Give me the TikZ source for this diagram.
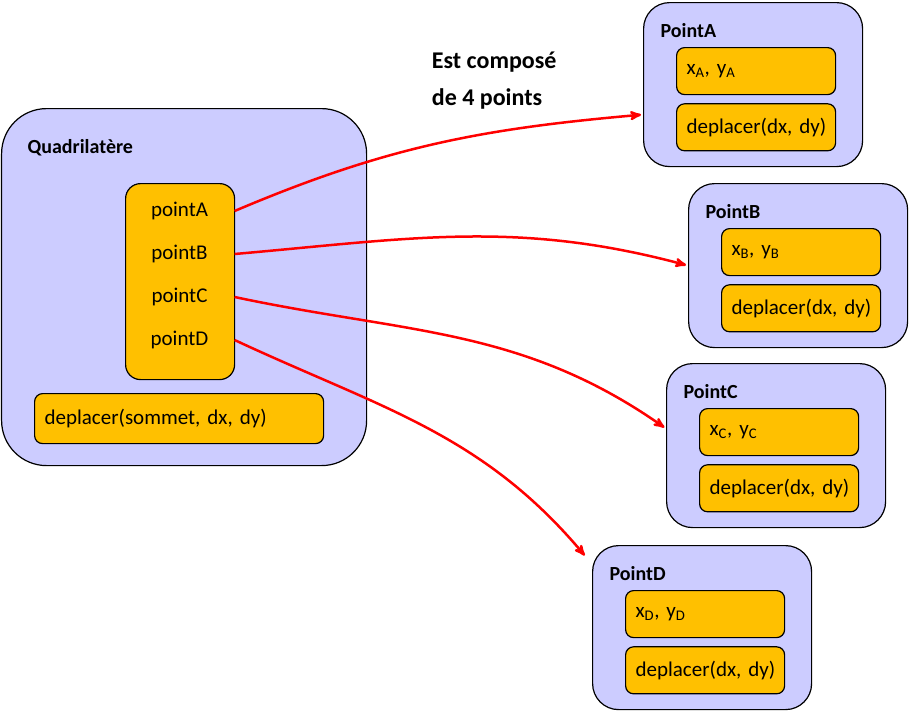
\documentclass[tikz,border=0pt]{standalone}
\usepackage{fontspec}
\setmainfont{Carlito}
\usetikzlibrary{arrows,positioning}
\definecolor{lavande}{HTML}{CCCCFF}
\definecolor{ambre}{HTML}{FFC000}

\begin{document}
\begin{tikzpicture}[x=1pt,y=1pt,>=stealth',line width=1.2pt,
  every node/.style={font=\fontsize{21}{25}\selectfont}]
\tikzstyle{classe}=[draw=black,fill=lavande,rounded corners=26pt,anchor=north west,inner sep=0pt,minimum width=219pt,minimum height=164pt]
\tikzstyle{champ}=[draw=black,fill=ambre,rounded corners=8pt,anchor=north west,inner xsep=10pt,text width=139pt,minimum height=47pt,align=left]
\tikzstyle{titre}=[anchor=west,inner sep=0pt,font=\fontsize{20}{24}\selectfont\bfseries]
\tikzstyle{lien}=[->,red,line width=2.5pt,shorten >=2pt]
\useasboundingbox (0,0) rectangle (909,-712);

% la classe Quadrilatere
\node[classe,rounded corners=45pt,minimum width=365pt,minimum height=357pt] (Q) at (1,-108) {};
\node[titre] at (27,-148) {Quadrilatère};
\node[draw=black,fill=ambre,rounded corners=15pt,anchor=north west,minimum width=109pt,minimum height=196pt,inner sep=0pt] (pts) at (125,-183) {};
\foreach \l/\py in {A/211,B/254,C/297,D/340}
  \node[minimum width=109pt,inner sep=0pt] (p\l) at (179.5,-\py) {point\l};
\node[champ,text width=269pt,minimum height=50pt] (dq) at (34,-393) {deplacer(sommet, dx, dy)};

% les quatre points
\foreach \l/\px/\py in {A/643/2,B/688/183,C/666/363,D/592/545} {
  \node[classe] (P\l) at (\px,-\py) {};
  \node[titre] at ([xshift=17,yshift=-29]P\l.north west) {Point\l};
  \node[champ] (x\l) at ([xshift=33,yshift=-45]P\l.north west) {x\textsubscript{\l}, y\textsubscript{\l}};
  \node[champ,below=8pt of x\l] (d\l) {deplacer(dx,~dy)};
}

\node[anchor=west,align=left,font=\fontsize{24}{37}\selectfont\bfseries] (txt) at (428,-81) {Est composé\\de 4 points};

\draw[lien] (pA.east) to[out=23,in=185] ([yshift=-30]PA.west);
\draw[lien] (pB.east) to[out=5,in=165] (PB.west);
\draw[lien] (pC.east) to[out=-12,in=145] ([yshift=17]PC.west);
\draw[lien] (pD.east) to[out=-25,in=130] ([shift={(-6,-12)}]PD.north west);
\end{tikzpicture}
\end{document}
